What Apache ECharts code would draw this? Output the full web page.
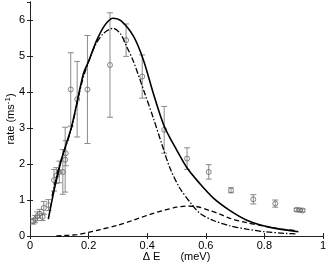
<!DOCTYPE html>
<html><head><meta charset="utf-8">
<script src="https://cdn.jsdelivr.net/npm/echarts@6/dist/echarts.min.js"></script>
<style>html,body{margin:0;padding:0;background:#fff}#c{width:332px;height:266px}</style>
</head><body><div id="c"></div>
<script>
// measured points: energy (meV), rate (ms^-1), error
var ptX = [0.011,0.018,0.025,0.033,0.043,0.047,0.063,0.082,0.090,0.100,0.112,0.120,0.122,0.139,0.161,0.196,0.273,0.328,0.383,0.458,0.536,0.610,0.686,0.762,0.837,0.910,0.920,0.930];
var ptY = [0.41,0.47,0.55,0.62,0.53,0.78,0.86,1.55,1.68,1.78,1.78,2.12,2.30,4.07,3.80,4.07,4.75,5.44,4.43,2.95,2.15,1.78,1.27,1.02,0.90,0.73,0.72,0.71];
var ptErr = [0.08,0.10,0.12,0.12,0.10,0.18,0.15,0.30,0.22,0.30,0.62,0.90,0.35,1.02,1.05,1.50,1.45,0.45,0.60,0.65,0.30,0.20,0.07,0.13,0.10,0.04,0.04,0.04];

// total model (solid)
var totX = [0.0625,0.085,0.11,0.142,0.182,0.20,0.228,0.255,0.282,0.31,0.353,0.387,0.421,0.458,0.50,0.537,0.58,0.626,0.68,0.74,0.80,0.853,0.916];
var totY = [0.47,1.37,2.2,3.04,4.5,4.85,5.44,5.85,6.05,5.98,5.55,4.89,3.96,3.05,2.4,1.88,1.45,1.05,0.72,0.44,0.28,0.19,0.12];
// component 1 (dash-dot)
var c1X = [0.075,0.10,0.14,0.18,0.22,0.25,0.284,0.31,0.33,0.353,0.39,0.42,0.45,0.478,0.512,0.55,0.58,0.626,0.68,0.74,0.80,0.876,0.91];
var c1Y = [1.1,1.95,2.95,4.35,5.25,5.62,5.77,5.6,5.26,4.85,4.0,3.3,2.55,1.88,1.32,0.9,0.63,0.43,0.29,0.19,0.12,0.07,0.06];
// component 2 (dashed)
var c2X = [0.09,0.13,0.16,0.20,0.24,0.30,0.353,0.41,0.455,0.50,0.532,0.567,0.612,0.65,0.683,0.74,0.796,0.85,0.91];
var c2Y = [0.0,0.02,0.04,0.10,0.18,0.30,0.44,0.60,0.71,0.80,0.83,0.82,0.71,0.60,0.49,0.37,0.28,0.20,0.15];

var xTicks = [0,0.2,0.4,0.6,0.8,1];
var yTicks = [0,1,2,3,4,5,6];

function zip(a,b){return a.map(function(v,i){return [v,b[i]];});}
var font = 'Liberation Sans, Arial, sans-serif';
var ax = {color:'#222', width:1};
var chart = echarts.init(document.getElementById('c'), null, {renderer:'canvas'});
chart.setOption({
  animation:false,
  grid:{left:30, right:9, top:2, bottom:30, containLabel:false, outerBoundsMode:'none'},
  xAxis:[{type:'value', min:0, max:1, interval:0.2, position:'bottom',
    axisLine:{lineStyle:ax}, axisTick:{inside:true, length:3, lineStyle:ax},
    splitLine:{show:false},
    axisLabel:{color:'#000', fontFamily:font, fontSize:11, margin:4,
      formatter:function(v){return String(v);}},
    name:'{a|Δ E}      {a|(meV)}', nameLocation:'middle', nameGap:15, nameMoveOverlap:false,
    nameTextStyle:{rich:{a:{fontFamily:font, fontSize:11, color:'#000'}}}},
   {type:'value', min:0, max:1, interval:0.2, position:'top',
    axisLine:{lineStyle:ax}, axisTick:{inside:true, length:3, lineStyle:ax},
    axisLabel:{show:false}, splitLine:{show:false}}],
  yAxis:[{type:'value', min:0, max:6.5, interval:1, position:'left',
    axisLine:{lineStyle:ax}, axisTick:{inside:true, length:3, lineStyle:ax},
    splitLine:{show:false},
    axisLabel:{color:'#000', fontFamily:font, fontSize:11, margin:5, showMaxLabel:false},
    name:'rate (ms{s|-1})', nameLocation:'middle', nameGap:12, nameRotate:90, nameMoveOverlap:false,
    nameTextStyle:{fontFamily:font, fontSize:11, color:'#000',
      rich:{s:{fontFamily:font, fontSize:8, color:'#000', verticalAlign:'top', padding:[0,0,6,0]}}}},
   {type:'value', min:0, max:6.5, interval:1, position:'right',
    axisLine:{lineStyle:ax}, axisTick:{inside:true, length:3, lineStyle:ax},
    axisLabel:{show:false}, splitLine:{show:false}}],
  series:[
    {type:'custom', xAxisIndex:0, yAxisIndex:0, z:2,
     data: ptX.map(function(x,i){return [x, ptY[i]-ptErr[i], ptY[i]+ptErr[i]];}),
     renderItem:function(params, api){
       var lo = api.coord([api.value(0), api.value(1)]);
       var hi = api.coord([api.value(0), api.value(2)]);
       var w = 3;
       var st = {stroke:'#8a8a8a', lineWidth:1};
       return {type:'group', children:[
         {type:'line', shape:{x1:lo[0],y1:lo[1],x2:hi[0],y2:hi[1]}, style:st},
         {type:'line', shape:{x1:lo[0]-w,y1:lo[1],x2:lo[0]+w,y2:lo[1]}, style:st},
         {type:'line', shape:{x1:hi[0]-w,y1:hi[1],x2:hi[0]+w,y2:hi[1]}, style:st}
       ]};
     }},
    {type:'scatter', data:zip(ptX,ptY), symbol:'circle', symbolSize:5, z:3,
     itemStyle:{color:'rgba(255,255,255,0)', borderColor:'#666', borderWidth:1}},
    {type:'line', data:zip(totX,totY), smooth:0.3, showSymbol:false, z:4,
     lineStyle:{color:'#000', width:1.6, type:'solid'}},
    {type:'line', data:zip(c1X,c1Y), smooth:0.3, showSymbol:false, z:4,
     lineStyle:{color:'#000', width:1.3, type:[6,2,1.5,2]}},
    {type:'line', data:zip(c2X,c2Y), smooth:0.3, showSymbol:false, z:4,
     lineStyle:{color:'#000', width:1.3, type:[5,3]}}
  ]
});
</script></body></html>
